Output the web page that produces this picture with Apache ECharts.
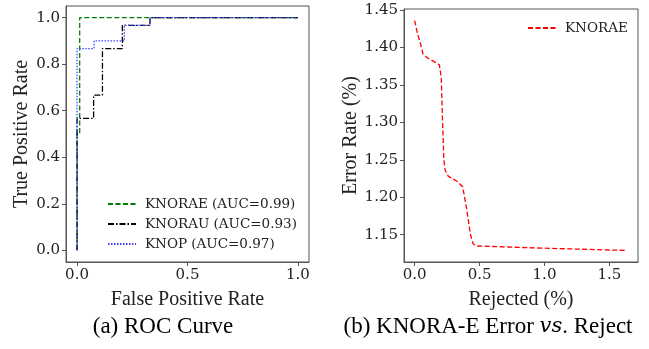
<!DOCTYPE html>
<html>
<head>
<meta charset="utf-8">
<script src="https://cdn.jsdelivr.net/npm/echarts@6/dist/echarts.min.js"></script>
<style>
  html, body { margin: 0; padding: 0; background: #fff; }
  #chart { width: 649px; height: 349px; }
</style>
</head>
<body>
<div id="chart"></div>
<script>
// ROC curves (fpr / tpr)
const rocNames = ["KNORAE (AUC=0.99)", "KNORAU (AUC=0.93)", "KNOP (AUC=0.97)"];
const fprE = [0, 0, 0.012, 0.012, 1];
const tprE = [0, 0.5, 0.5, 1, 1];
const fprU = [0, 0, 0.075, 0.075, 0.115, 0.115, 0.205, 0.205, 0.33, 0.33, 1];
const tprU = [0, 0.567, 0.567, 0.667, 0.667, 0.867, 0.867, 0.967, 0.967, 1, 1];
const fprP = [0, 0, 0.077, 0.077, 0.214, 0.214, 0.33, 0.33, 1];
const tprP = [0, 0.867, 0.867, 0.9, 0.9, 0.967, 0.967, 1, 1];

// error vs reject curve
const rejected = [0, 0.02, 0.045, 0.065, 0.1, 0.19, 0.205, 0.215, 0.225, 0.235, 0.26, 0.33, 0.37, 0.4, 0.43, 0.45, 0.475, 1.0, 1.636];
const errorRate = [1.436, 1.42, 1.405, 1.391, 1.386, 1.377, 1.36, 1.3, 1.25, 1.236, 1.228, 1.221, 1.214, 1.185, 1.15, 1.138, 1.135, 1.132, 1.129];

const rocTicksX = [0, 0.5, 1];
const rocTicksY = [0, 0.2, 0.4, 0.6, 0.8, 1];
const rejTicksX = [0, 0.5, 1, 1.5];
const errTicksY = [1.15, 1.2, 1.25, 1.3, 1.35, 1.4, 1.45];

const zip = (xs, ys) => xs.map((x, i) => [x, ys[i]]);

const spine = "#555";
const ink = "#222";
const tickFont = "'DejaVu Serif', serif";
const labelFont = "'Liberation Serif', 'Times New Roman', serif";

function axis(gridIndex, min, max, ticks, digits, name, gap) {
  return {
    type: "value",
    gridIndex,
    min,
    max,
    name,
    nameLocation: "middle",
    nameGap: gap,
    nameTextStyle: { fontFamily: labelFont, fontSize: 20, color: ink },
    axisLine: { show: true, onZero: false, lineStyle: { color: spine, width: 1 } },
    axisTick: { show: true, customValues: ticks, length: 4, lineStyle: { color: spine } },
    axisLabel: {
      customValues: ticks,
      formatter: (v) => v.toFixed(digits),
      fontFamily: tickFont,
      fontSize: 15,
      color: ink,
      margin: 6,
    },
    splitLine: { show: false },
  };
}

const legendBase = {
  itemWidth: 28,
  itemHeight: 14,
  itemStyle: { opacity: 0 },
  textStyle: { fontFamily: tickFont, fontSize: 13.5, color: ink, padding: [0, 0, 0, 4] },
};

const chart = echarts.init(document.getElementById("chart"), null, { renderer: "canvas" });

chart.setOption({
  animation: false,
  backgroundColor: "#fff",
  grid: [
    { left: 66, top: 6, width: 243, height: 256, show: true, borderColor: spine, borderWidth: 1 },
    { left: 404, top: 9, width: 234, height: 253, show: true, borderColor: spine, borderWidth: 1 },
  ],
  xAxis: [
    axis(0, -0.05, 1.05, rocTicksX, 1, "False Positive Rate", 28),
    axis(1, -0.082, 1.72, rejTicksX, 1, "Rejected (%)", 28),
  ],
  yAxis: [
    axis(0, -0.05, 1.05, rocTicksY, 1, "True Positive Rate", 32),
    axis(1, 1.1136, 1.4514, errTicksY, 2, "Error Rate (%)", 41),
  ],
  legend: [
    Object.assign({}, legendBase, {
      data: rocNames,
      orient: "vertical",
      left: 102,
      top: 192,
      itemGap: 6,
    }),
    Object.assign({}, legendBase, {
      data: ["KNORAE"],
      left: 522,
      top: 16,
    }),
  ],
  series: [
    {
      name: rocNames[0],
      type: "line",
      xAxisIndex: 0,
      yAxisIndex: 0,
      data: zip(fprE, tprE),
      symbol: "none",
      color: "#008000",
      lineStyle: { width: 1.3, type: [5, 2.5] },
    },
    {
      name: rocNames[1],
      type: "line",
      xAxisIndex: 0,
      yAxisIndex: 0,
      data: zip(fprU, tprU),
      symbol: "none",
      color: "#000",
      lineStyle: { width: 1.3, type: [6, 2, 1.5, 2] },
    },
    {
      name: rocNames[2],
      type: "line",
      xAxisIndex: 0,
      yAxisIndex: 0,
      data: zip(fprP, tprP),
      symbol: "none",
      color: "#4040ff",
      lineStyle: { width: 1.3, type: [1.5, 1.5] },
    },
    {
      name: "KNORAE",
      type: "line",
      xAxisIndex: 1,
      yAxisIndex: 1,
      data: zip(rejected, errorRate),
      symbol: "none",
      color: "#ff0000",
      lineStyle: { width: 1.3, type: [5, 2.5] },
    },
  ],
  graphic: [
    {
      type: "text",
      x: 163,
      y: 327,
      style: {
        text: "(a) ROC Curve",
        font: "23px 'Liberation Serif', serif",
        fill: "#000",
        align: "center",
        verticalAlign: "middle",
      },
    },
    {
      type: "text",
      x: 488,
      y: 327,
      style: {
        text: "{a|(b) KNORA-E Error }{i|vs}{a|. Reject}",
        align: "center",
        verticalAlign: "middle",
        rich: {
          a: { fontFamily: "Liberation Serif", fontSize: 23, fill: "#000" },
          i: { fontFamily: "DejaVu Serif", fontStyle: "italic", fontSize: 21, fill: "#000" },
        },
      },
    },
  ],
});
</script>
</body>
</html>
